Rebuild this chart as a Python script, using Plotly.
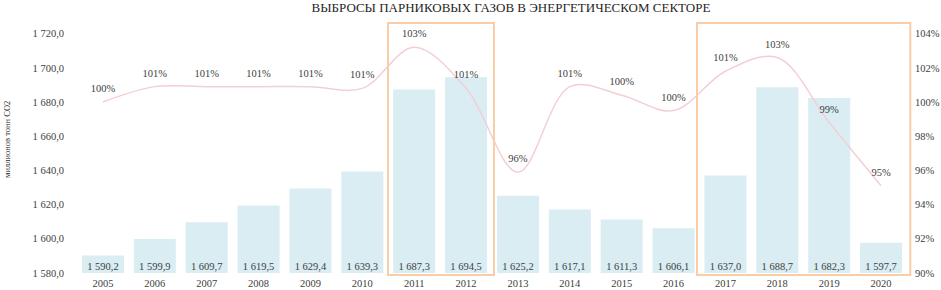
import plotly.graph_objects as go

years = [str(y) for y in range(2005, 2021)]
emissions = [1590.2, 1599.9, 1609.7, 1619.5, 1629.4, 1639.3, 1687.3, 1694.5,
             1625.2, 1617.1, 1611.3, 1606.1, 1637.0, 1688.7, 1682.3, 1597.7]
emission_labels = ["1 590,2", "1 599,9", "1 609,7", "1 619,5", "1 629,4", "1 639,3",
                   "1 687,3", "1 694,5", "1 625,2", "1 617,1", "1 611,3", "1 606,1",
                   "1 637,0", "1 688,7", "1 682,3", "1 597,7"]
change_pct = [100.0, 100.9, 100.9, 100.9, 100.9, 100.8, 103.2, 100.8,
              95.9, 100.9, 100.4, 99.5, 101.8, 102.6, 98.8, 95.1]
change_labels = ["100%", "101%", "101%", "101%", "101%", "101%", "103%", "101%",
                 "96%", "101%", "100%", "100%", "101%", "103%", "99%", "95%"]
left_ticks = [1580, 1600, 1620, 1640, 1660, 1680, 1700, 1720]
left_ticktext = ["1 580,0", "1 600,0", "1 620,0", "1 640,0", "1 660,0", "1 680,0", "1 700,0", "1 720,0"]
right_ticks = [90, 92, 94, 96, 98, 100, 102, 104]
right_ticktext = ["90%", "92%", "94%", "96%", "98%", "100%", "102%", "104%"]
base_value = 1580

FONT = "Liberation Serif"
TXT = "#404040"

fig = go.Figure()
fig.add_trace(go.Bar(
    x=years, y=emissions, marker=dict(color="#d9edf3", line=dict(width=0)),
    showlegend=False, hoverinfo="x+y"))
fig.add_trace(go.Scatter(
    x=years, y=[base_value] * len(years), mode="text", text=emission_labels,
    textposition="top center", textfont=dict(family=FONT, size=10.5, color=TXT),
    showlegend=False, hoverinfo="skip", cliponaxis=False))
fig.add_trace(go.Scatter(
    x=years, y=change_pct, yaxis="y2", mode="lines+markers+text", text=change_labels,
    textposition="top center", textfont=dict(family=FONT, size=10.5, color=TXT),
    marker=dict(size=10, opacity=0),
    line=dict(color="#f3cfd5", width=1.5, shape="spline", smoothing=1.0),
    showlegend=False, cliponaxis=False))

box_color = "#f9cda7"
for x0, x1 in [(0.3747, 0.5024), (0.747, 1.004)]:
    fig.add_shape(type="rect", xref="paper", yref="paper", x0=x0, x1=x1, y0=-0.008, y1=0.996,
                  line=dict(color=box_color, width=2), fillcolor="rgba(0,0,0,0)", layer="above")

fig.update_layout(
    width=941, height=290,
    margin=dict(l=77, r=34, t=22, b=17, autoexpand=False),
    paper_bgcolor="white", plot_bgcolor="white",
    bargap=0.19,
    font=dict(family=FONT, size=10.5, color=TXT),
    title=dict(text="ВЫБРОСЫ ПАРНИКОВЫХ ГАЗОВ В ЭНЕРГЕТИЧЕСКОМ СЕКТОРЕ",
               x=0.543, xanchor="center", y=0.975, yanchor="middle", yref="container",
               font=dict(family=FONT, size=13, color="#262626")),
    xaxis=dict(type="category", range=[-0.5, len(years) - 0.5], autorange=False,
               showgrid=False, showline=False, zeroline=False,
               ticks="", ticklabelstandoff=2, automargin=False,
               tickfont=dict(family=FONT, size=10.5, color=TXT)),
    yaxis=dict(range=[1580, 1726.8], tickvals=left_ticks, ticktext=left_ticktext,
               showgrid=False, zeroline=False, showline=False, ticks="",
               ticklabelstandoff=12, automargin=False,
               tickfont=dict(family=FONT, size=10.5, color=TXT)),
    yaxis2=dict(range=[90, 104.68], overlaying="y", side="right", tickvals=right_ticks,
                ticktext=right_ticktext, showgrid=False, zeroline=False, showline=False,
                ticks="", ticklabelstandoff=7, automargin=False,
                tickfont=dict(family=FONT, size=10.5, color=TXT)),
    annotations=[dict(text="миллионов тонн CO2", textangle=-90, xref="paper", yref="paper",
                      x=(7 - 77) / 830, y=0.53, xanchor="center", yanchor="middle",
                      showarrow=False, font=dict(family=FONT, size=8.5, color="#262626"))],
)

fig.write_html("out.html", config={"displayModeBar": False},
               post_script="document.body.style.margin='0';document.body.style.overflow='hidden';")
